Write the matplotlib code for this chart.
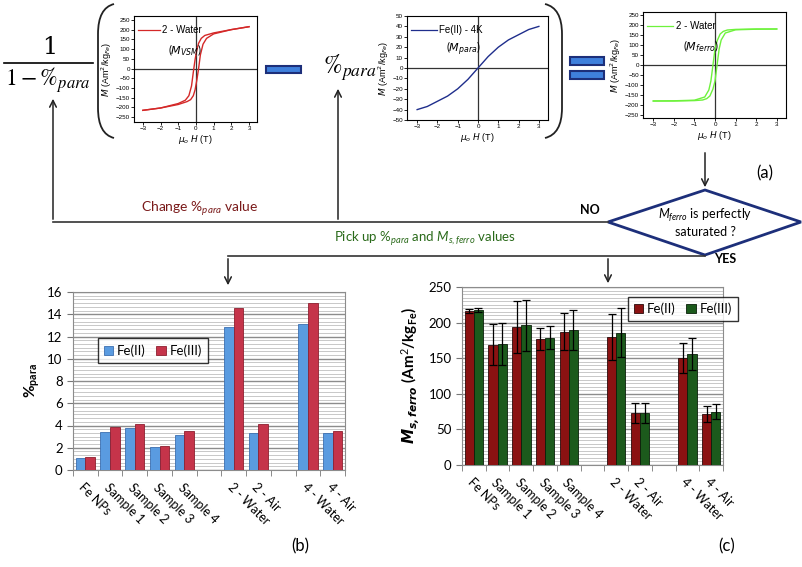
import numpy as np
import matplotlib.pyplot as plt
from matplotlib.path import Path
from matplotlib.patches import PathPatch, Polygon, Rectangle
from matplotlib.ticker import MultipleLocator

# --- data -------------------------------------------------------------
categories = ['Fe NPs', 'Sample 1', 'Sample 2', 'Sample 3', 'Sample 4', '',
              '2 - Water', '2 - Air', '', '4 - Water', '4 - Air']

para_fe2 = [1.05, 3.45, 3.75, 2.1, 3.15, np.nan, 12.85, 3.3, np.nan, 13.15, 3.3]
para_fe3 = [1.15, 3.85, 4.15, 2.15, 3.55, np.nan, 14.55, 4.15, np.nan, 15.0, 3.55]

ms_fe2 = [216, 169, 194, 177, 187, np.nan, 180, 73, np.nan, 150, 72]
ms_fe3 = [218, 170, 196, 179, 189, np.nan, 186, 73, np.nan, 156, 75]
ms_err2 = [3, 29, 36, 15, 26, np.nan, 32, 14, np.nan, 21, 11]
ms_err3 = [3, 30, 36, 16, 28, np.nan, 34, 14, np.nan, 22, 11]

# M(H) curves
vsm_h_down = [3, 2, 1, 0.5, 0.3, 0.15, 0.05, -0.05, -0.15, -0.25, -0.4, -0.6, -1, -2, -3]
vsm_m_down = [215, 200, 183, 170, 155, 130, 95, 45, -20, -90, -140, -163, -180, -203, -215]
vsm_h_up = [-3, -2, -1, -0.5, -0.3, -0.15, -0.05, 0.05, 0.15, 0.25, 0.4, 0.6, 1, 2, 3]
vsm_m_up = [-215, -203, -185, -170, -160, -140, -110, -60, 0, 70, 125, 155, 178, 200, 215]

para_h = [-3, -2.5, -2, -1.5, -1, -0.5, 0, 0.5, 1, 1.5, 2, 2.5, 3]
para_m = [-40, -37, -32, -27, -20, -11, 0, 11, 20, 27, 32, 37, 40]

ferro_h_down = [3, 2, 1, 0.6, 0.4, 0.25, 0.1, 0, -0.1, -0.2, -0.3, -0.5, -1, -2, -3]
ferro_m_down = [180, 180, 178, 175, 168, 155, 120, 80, 0, -80, -125, -160, -176, -179, -180]
ferro_h_up = [-3, -2, -1, -0.6, -0.4, -0.25, -0.1, 0, 0.1, 0.2, 0.3, 0.5, 1, 2, 3]
ferro_m_up = [-180, -180, -178, -175, -168, -155, -120, -80, 0, 80, 125, 160, 176, 179, 180]

W, H = 803, 567
fig = plt.figure(figsize=(W / 100, H / 100), dpi=100)
plt.rcParams['font.family'] = ['Lato', 'DejaVu Sans']
plt.rcParams['mathtext.fontset'] = 'custom'
plt.rcParams['mathtext.rm'] = 'Lato'
plt.rcParams['mathtext.it'] = 'Lato:italic'
plt.rcParams['mathtext.bf'] = 'Lato:bold'


def px_axes(x0, y0, x1, y1):
    # axes placed by pixel box (top-left origin)
    return fig.add_axes([x0 / W, 1 - y1 / H, (x1 - x0) / W, (y1 - y0) / H])


# --- overlay for the flow chart ---------------------------------------
ov = fig.add_axes([0, 0, 1, 1], zorder=0)
ov.set_xlim(0, W)
ov.set_ylim(H, 0)
ov.axis('off')

# fraction 1 / (1 - %para)
ov.text(50, 48, '1', fontsize=17, ha='center', va='center', family='DejaVu Serif',
        math_fontfamily='stix')
ov.plot([4, 93], [63, 63], color='black', lw=1.2)
ov.text(48, 80, r'$1 - \%_{para}$', fontsize=17, ha='center', va='center',
        math_fontfamily='stix')
ov.text(350, 68, r'$\%_{para}$', fontsize=18, ha='center', va='center',
        math_fontfamily='stix')


def bracket(x_out, x_in, y0, y1):
    verts = [(x_out, y0), (x_in, y0 + 4), (x_in, y0 + 30), (x_in, y1 - 30),
             (x_in, y1 - 4), (x_out, y1)]
    codes = [Path.MOVETO, Path.CURVE3, Path.CURVE3, Path.LINETO, Path.CURVE3, Path.CURVE3]
    ov.add_patch(PathPatch(Path(verts, codes), fill=False, lw=1.3, color='#222222'))


bracket(114, 98, 4, 138)
bracket(545, 562, 4, 138)

# minus and equal bars
bar_kw = dict(facecolor='#3f80dc', edgecolor='#1d2f7a', lw=1.5)
ov.add_patch(Rectangle((266, 66), 35, 7, **bar_kw))
ov.add_patch(Rectangle((570, 57), 34, 8, **bar_kw))
ov.add_patch(Rectangle((570, 71), 34, 8, **bar_kw))

line_kw = dict(color='#333333', lw=1.2)
arrow_kw = dict(arrowstyle='->', color='#222222', lw=1.1, mutation_scale=12)
ov.plot([53, 608], [222, 222], **line_kw)
ov.annotate('', xy=(53, 96), xytext=(53, 222), arrowprops=arrow_kw)
ov.annotate('', xy=(338, 86), xytext=(338, 222), arrowprops=arrow_kw)
ov.annotate('', xy=(705, 190), xytext=(705, 150), arrowprops=arrow_kw)
ov.plot([228, 705], [256, 256], **line_kw)
ov.annotate('', xy=(228, 288), xytext=(228, 256), arrowprops=arrow_kw)
ov.annotate('', xy=(608, 286), xytext=(608, 256), arrowprops=arrow_kw)

ov.add_patch(Polygon([(608, 222), (705, 190), (801, 222), (705, 255)], closed=True,
                     facecolor='white', edgecolor='#1d2f7a', lw=2))
ov.text(705, 222, '$M_{ferro}$ is perfectly\nsaturated ?', fontsize=9, ha='center',
        va='center', linespacing=1.2)
ov.text(590, 210, 'NO', fontsize=9, fontweight='bold', ha='center', va='center')
ov.text(725, 259, 'YES', fontsize=9, fontweight='bold', ha='center', va='center')

ov.text(200, 209, r'Change $\%_{para}$ value', fontsize=10, color='#7a1a1a',
        ha='center', va='center')
ov.text(425, 239, r'Pick up $\%_{para}$ and $M_{s,ferro}$ values', fontsize=9.5,
        color='#2a6a1a', ha='center', va='center')

ov.text(765, 173, '(a)', fontsize=12, ha='center', va='center')
ov.text(300, 546, '(b)', fontsize=12, ha='center', va='center')
ov.text(727, 546, '(c)', fontsize=12, ha='center', va='center')


# --- small M(H) insets ------------------------------------------------
def inset(box, ylim, ystep, legend_txt, sub_txt, color):
    ax = px_axes(*box)
    ax.set_xlim(-3.5, 3.45)
    ax.set_ylim(*ylim)
    ax.set_xticks(range(-3, 4))
    ax.set_yticks(np.arange(-5 * ystep, 5 * ystep + 1, ystep))
    ax.tick_params(labelsize=4.5, length=2, width=0.6, pad=1)
    for lab in ax.get_xticklabels() + ax.get_yticklabels():
        lab.set_family('Liberation Sans')
    for s in ax.spines.values():
        s.set_linewidth(0.8)
    ax.axhline(0, color='#333333', lw=0.9)
    ax.axvline(0, color='#333333', lw=0.9)
    ax.set_xlabel(r'$\mu_o$ $H$ (T)', fontsize=6.5, labelpad=1, family='Liberation Sans')
    ax.set_ylabel(r'$M$ (Am$^2$/kg$_{Fe}$)', fontsize=6.5, labelpad=1, family='Liberation Sans')
    ax.xaxis.label.set_math_fontfamily('dejavusans')
    ax.yaxis.label.set_math_fontfamily('dejavusans')
    ax.plot([0.03, 0.21], [0.87, 0.87], color=color, lw=0.9, transform=ax.transAxes)
    ax.text(0.23, 0.87, legend_txt, fontsize=7, va='center', transform=ax.transAxes,
            family='Liberation Sans')
    ax.text(0.28, 0.68, sub_txt, fontsize=8, va='center', transform=ax.transAxes,
            math_fontfamily='dejavusans')
    return ax


ax1 = inset((134, 16, 257, 122), (-275, 270), 50, '2 - Water', r'($M_{VSM}$)', '#d42828')
ax1.plot(vsm_h_down, vsm_m_down, color='#d42828', lw=1)
ax1.plot(vsm_h_up, vsm_m_up, color='#d42828', lw=1)

ax2 = inset((407, 16, 548, 120), (-50, 50), 10, 'Fe(II) - 4K', r'($M_{para}$)', '#1f2e8c')
ax2.plot(para_h, para_m, color='#1f2e8c', lw=1)

ax3 = inset((643, 12, 786, 118), (-265, 265), 50, '2 - Water', r'($M_{ferro}$)', '#6ef23c')
ax3.plot(ferro_h_down, ferro_m_down, color='#6ef23c', lw=1)
ax3.plot(ferro_h_up, ferro_m_up, color='#6ef23c', lw=1)


# --- bar charts -------------------------------------------------------
def bar_chart(box, s1, s2, c1, c2, e1_color, e2_color, ymax, ystep, minor, ylabel,
              err1=None, err2=None, leg_anchor=(0, 1)):
    ax = px_axes(*box)
    x = np.arange(len(categories))
    w = 0.39
    ek = dict(ecolor='black', elinewidth=0.9, capsize=3, capthick=0.9)
    ax.bar(x - w / 2, s1, w, color=c1, edgecolor=e1_color, lw=0.6, yerr=err1,
           error_kw=ek, label='Fe(II)', zorder=3)
    ax.bar(x + w / 2, s2, w, color=c2, edgecolor=e2_color, lw=0.6, yerr=err2,
           error_kw=ek, label='Fe(III)', zorder=3)
    ax.set_xlim(-0.5, len(categories) - 0.5)
    ax.set_ylim(0, ymax)
    ax.yaxis.set_major_locator(MultipleLocator(ystep))
    ax.yaxis.set_minor_locator(MultipleLocator(minor))
    ax.grid(which='major', axis='y', color='#8c8c8c', lw=1.0, zorder=0)
    ax.grid(which='minor', axis='y', color='#c8c8c8', lw=0.7, zorder=0)
    ax.set_axisbelow(True)
    ax.set_xticks(x)
    ax.set_xticklabels(categories, rotation=-45, ha='left', va='top',
                       rotation_mode='anchor', fontsize=9)
    ax.set_xticks(np.arange(-0.5, len(categories)), minor=True)
    ax.tick_params(axis='x', which='major', length=0, pad=8)
    ax.tick_params(axis='x', which='minor', length=4, color='#777777')
    ax.tick_params(axis='y', which='major', labelsize=9.5, length=4, color='#777777')
    ax.tick_params(axis='y', which='minor', length=0)
    for s in ax.spines.values():
        s.set_color('#8c8c8c')
    ax.set_ylabel(ylabel, fontsize=11, fontweight='bold', labelpad=4)
    leg = ax.legend(loc='upper left', bbox_to_anchor=leg_anchor, ncol=2, fontsize=9.5,
                    frameon=True, fancybox=False, edgecolor='black', handlelength=0.7,
                    handleheight=0.7, handletextpad=0.3, columnspacing=0.8,
                    borderpad=0.45, borderaxespad=0)
    leg.get_frame().set_linewidth(1.0)
    leg.set_zorder(5)
    return ax


axb = bar_chart((73, 292, 345, 470), para_fe2, para_fe3, '#5a9be0', '#c5344a',
                '#3c6fb0', '#8e2030', 16, 2, 2 / 6, r'%$_{\mathbf{para}}$',
                leg_anchor=(0.092, 0.74))

axc = bar_chart((462, 287, 723, 465), ms_fe2, ms_fe3, '#8b1212', '#1c5a1c',
                '#2a0a0a', '#0a200a', 250, 50, 5,
                r'$\mathbfit{M_{s,ferro}}$ (Am$^2$/kg$_{\mathbf{Fe}}$)',
                err1=ms_err2, err2=ms_err3, leg_anchor=(0.636, 0.944))

fig.savefig('out.png', dpi=100)
